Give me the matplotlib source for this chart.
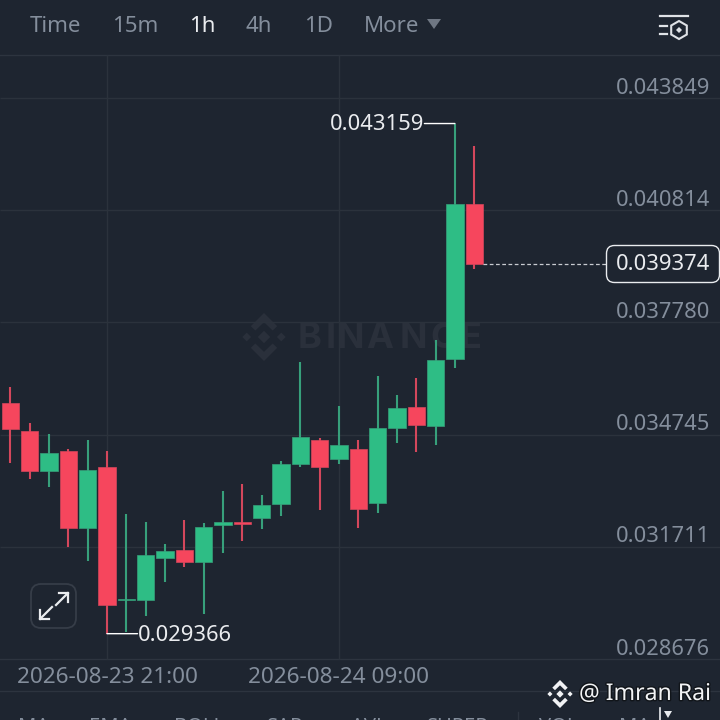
import matplotlib
matplotlib.use('Agg')
import matplotlib.pyplot as plt
import matplotlib.patheffects as pe
from matplotlib.patches import FancyBboxPatch, Polygon, RegularPolygon

plt.rcParams['font.family'] = ['Noto Sans', 'DejaVu Sans']

bg = '#1e2530'
grid_c = '#2b323c'
sep_c = '#2d343f'
green = '#2ebd85'
red = '#f6465d'
green_w = '#37a07b'
red_w = '#d4475c'
muted = '#848e9c'

# one hour candles
opens = [0.035611, 0.034846, 0.033756, 0.034297, 0.032231, 0.033872, 0.030276, 0.030276,
         0.031412, 0.031620, 0.031296, 0.032296, 0.032377, 0.032485, 0.032872, 0.033945,
         0.034594, 0.034081, 0.034351, 0.032891, 0.034935, 0.035486, 0.034989, 0.036784, 0.040991]
highs = [0.036027, 0.035054, 0.034756, 0.034359, 0.034594, 0.034297, 0.032610, 0.032377,
         0.031782, 0.032447, 0.032350, 0.033215, 0.033405, 0.033115, 0.034027, 0.036703,
         0.034648, 0.035522, 0.034594, 0.036325, 0.035811, 0.036270, 0.037298, 0.043159, 0.042543]
lows = [0.033972, 0.033548, 0.033324, 0.031701, 0.031339, 0.029366, 0.029411, 0.029844,
        0.030771, 0.031161, 0.029898, 0.031555, 0.031880, 0.032204, 0.032539, 0.033880,
        0.032710, 0.033962, 0.032231, 0.032637, 0.034521, 0.034286, 0.034467, 0.036541, 0.039234]
closes = [0.034908, 0.033772, 0.034259, 0.032231, 0.033783, 0.030149, 0.030312, 0.031485,
          0.031593, 0.031312, 0.032242, 0.032393, 0.032331, 0.032837, 0.033945, 0.034692,
          0.033880, 0.034467, 0.032745, 0.034927, 0.035476, 0.035008, 0.036757, 0.040975, 0.039374]

price_ticks = [0.043849, 0.040814, 0.037780, 0.034745, 0.031711, 0.028676]
price_labels = ['0.043849', '0.040814', '0.037780', '0.034745', '0.031711', '0.028676']
time_ticks = [5, 17]
time_labels = ['2026-08-23 21:00', '2026-08-24 09:00']
last_price = 0.039374
high_price = 0.043159
low_price = 0.029366
high_idx = 23
low_idx = 5
last_idx = 24

tabs = ['Time', '15m', '1h', '4h', '1D', 'More']
tab_x = [30, 112, 189, 246, 304, 364]
bottom_tabs = ['MA', 'EMA', 'BOLL', 'SAR', 'AVL', 'SUPER', 'VOL', 'MA']
bottom_x = [18, 89, 174, 267, 351, 427, 539, 619]
wm_letters = list('BINANCE')
wm_x = [298, 326, 337, 366, 400, 430, 460]

fig = plt.figure(figsize=(7.2, 7.2), dpi=100, facecolor=bg)


def px_axes(z):
    a = fig.add_axes([0, 0, 1, 1], zorder=z)
    a.set_xlim(0, 720)
    a.set_ylim(720, 0)
    a.axis('off')
    return a


back = px_axes(0)
ax = fig.add_axes([0, 0, 1, 1], zorder=1)
ax.patch.set_alpha(0)
ax.axis('off')
ax.set_xlim(-0.533, 36.71)
ax.set_ylim(0.027032, 0.046499)
front = px_axes(2)


def diamond_logo(a, cx, cy, s, col):
    # the four corner diamonds plus the centre one
    for dx, dy, r in [(0, 0, 0.2), (-0.72, 0, 0.14), (0.72, 0, 0.14)]:
        a.add_patch(RegularPolygon((cx + dx * s, cy + dy * s), 4, radius=r * s * 1.3, color=col, lw=0))
    a.add_patch(Polygon([(cx, cy - s), (cx + 0.55 * s, cy - 0.45 * s), (cx + 0.36 * s, cy - 0.27 * s),
                         (cx, cy - 0.62 * s), (cx - 0.36 * s, cy - 0.27 * s), (cx - 0.55 * s, cy - 0.45 * s)],
                        color=col, lw=0))
    a.add_patch(Polygon([(cx, cy + s), (cx + 0.55 * s, cy + 0.45 * s), (cx + 0.36 * s, cy + 0.27 * s),
                         (cx, cy + 0.62 * s), (cx - 0.36 * s, cy + 0.27 * s), (cx - 0.55 * s, cy + 0.45 * s)],
                        color=col, lw=0))


# watermark, letters placed one by one since no font here is wide enough
diamond_logo(back, 264, 337, 24, '#2a303b')
for ch, x in zip(wm_letters, wm_x):
    back.text(x, 338, ch, color='#2a303b', fontsize=26, fontweight='bold', va='center', ha='left',
              family=['Inter', 'DejaVu Sans'])

# grid
yax = ax.get_yaxis_transform()
ax.hlines(price_ticks[:-1], 0, 1, transform=yax, color=grid_c, lw=1, zorder=1)
ax.vlines(time_ticks, 0.028676, 0.045, color=grid_c, lw=1, zorder=1)
for yy in [55, 659, 691]:
    back.plot([0, 720], [yy, yy], color=sep_c, lw=1)

# candles
for i in range(len(opens)):
    up = closes[i] >= opens[i]
    ax.vlines(i, lows[i], highs[i], color=green_w if up else red_w, lw=1.5, zorder=2)
    bottom = min(opens[i], closes[i])
    ax.bar(i, abs(closes[i] - opens[i]), bottom=bottom, width=0.9, color=green if up else red,
           edgecolor=green_w if up else red_w, lw=0.5, zorder=3)

# price axis labels
for p, lab in zip(price_ticks, price_labels):
    ax.annotate(lab, xy=(710 / 720, p), xycoords=yax, xytext=(0, 7.2), textcoords='offset points',
                ha='right', va='center', color=muted, fontsize=15.8, zorder=5)

# time axis labels
for t, lab in zip(time_ticks, time_labels):
    ax.annotate(lab, xy=(t, 0.028676), xytext=(0, -13.5), textcoords='offset points',
                ha='center', va='center', color=muted, fontsize=16.2, zorder=5)

# high / low markers
ax.annotate('', xy=(high_idx, high_price), xytext=(-22, 0), textcoords='offset points',
            arrowprops=dict(arrowstyle='-', color='white', lw=1, shrinkA=0, shrinkB=0), zorder=5)
ax.annotate(f'{high_price:.6f}', xy=(high_idx, high_price), xytext=(-22, -1), textcoords='offset points',
            ha='right', va='center', color='#eaecef', fontsize=15.8, zorder=5)
ax.annotate('', xy=(low_idx, low_price), xytext=(22, 0), textcoords='offset points',
            arrowprops=dict(arrowstyle='-', color='white', lw=1, shrinkA=0, shrinkB=0), zorder=5)
ax.annotate(f'{low_price:.6f}', xy=(low_idx, low_price), xytext=(22, -1), textcoords='offset points',
            ha='left', va='center', color='#eaecef', fontsize=15.8, zorder=5)

# last price line and box
ax.plot([last_idx + 0.45, 31.0], [last_price, last_price], color='#c9ccd1', lw=0.9, ls=(0, (3, 2)), zorder=4)
front.add_patch(FancyBboxPatch((612, 251), 102, 26, boxstyle='round,pad=5.5,rounding_size=8',
                               facecolor=bg, edgecolor='#eaecef', lw=1))
front.annotate(f'{last_price:.6f}', xy=(710 / 720, last_price), xycoords=yax, xytext=(0, -0.8),
               textcoords='offset points', ha='right', va='center',
               color='#eaecef', fontsize=15.8, zorder=5)

# top bar
for lab, x in zip(tabs, tab_x):
    active = lab == '1h'
    front.text(x, 26, lab, color='#eaecef' if active else muted, fontsize=16, ha='left', va='center',
               fontweight='bold' if active else 'normal')
front.add_patch(Polygon([(427, 19), (441, 19), (434, 29)], color='#6f7783', lw=0))
front.plot([660, 688], [16, 16], color='#dfe2e6', lw=1.6)
front.plot([660, 667], [26, 26], color='#dfe2e6', lw=1.6)
front.plot([660, 667], [34, 34], color='#dfe2e6', lw=1.6)
front.add_patch(RegularPolygon((679, 30), 6, radius=9, facecolor='none', edgecolor='#dfe2e6', lw=1.5))
front.add_patch(RegularPolygon((679, 30), 4, radius=3, color='#dfe2e6', lw=0))

# expand button
front.add_patch(FancyBboxPatch((38, 591), 31, 30, boxstyle='round,pad=7,rounding_size=10',
                               facecolor=bg, edgecolor='#363d48', lw=1.3))
for x0, y0, x1, y1 in [(56, 605, 68, 593), (52, 607, 40, 619)]:
    front.plot([x0, x1], [y0, y1], color='#eaecef', lw=1.6)
    sx = 1 if x1 > x0 else -1
    sy = 1 if y1 > y0 else -1
    front.plot([x1 - sx * 9, x1, x1], [y1, y1, y1 - sy * 9], color='#eaecef', lw=1.6)

# bottom row, cut by the picture edge
for lab, x in zip(bottom_tabs, bottom_x):
    front.text(x, 727, lab, color=muted, fontsize=14.5, ha='left', va='center', clip_on=True)
front.plot([518, 518], [712, 720], color=sep_c, lw=1)

# author mark
diamond_logo(front, 560, 694, 14, '#f2f3f5')
front.text(579, 694, '@ Imran Rai', color='#f2f3f5', fontsize=16.6, ha='left', va='center',
           path_effects=[pe.withStroke(linewidth=2, foreground='#11151a')])
front.plot([660, 660], [708, 720], color='#eaecef', lw=1.2)
front.add_patch(Polygon([(664, 711), (672, 711), (668, 718)], color='#eaecef', lw=0))

fig.savefig('out.png', dpi=100, facecolor=bg)
